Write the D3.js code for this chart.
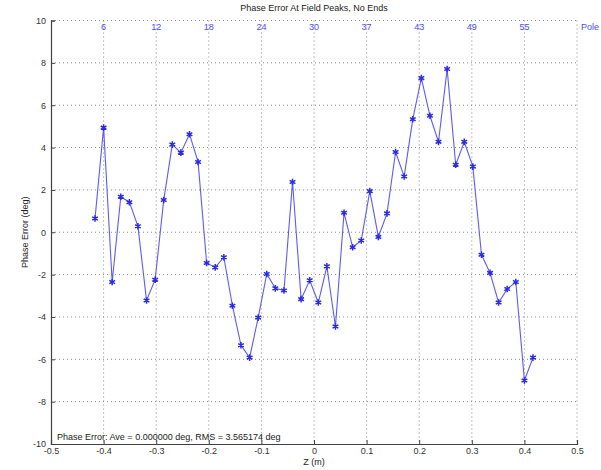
<!DOCTYPE html>
<html>
<head>
<meta charset="utf-8">
<script src="https://cdn.jsdelivr.net/npm/d3@7"></script>
<style>
  html, body { margin: 0; padding: 0; background: #fff; }
  svg { display: block; font-family: "Liberation Sans", Arial, sans-serif; }
</style>
</head>
<body>
<svg id="chart" width="601" height="470"></svg>
<script>
// Longitudinal position of each field peak (m)
const zPositions = [
  -0.4163, -0.4000, -0.3837, -0.3673, -0.3510, -0.3347, -0.3184, -0.3020,
  -0.2857, -0.2694, -0.2531, -0.2367, -0.2204, -0.2041, -0.1878, -0.1714,
  -0.1551, -0.1388, -0.1224, -0.1061, -0.0898, -0.0735, -0.0571, -0.0408,
  -0.0245, -0.0082, 0.0082, 0.0245, 0.0408, 0.0571, 0.0735, 0.0898,
  0.1061, 0.1224, 0.1388, 0.1551, 0.1714, 0.1878, 0.2041, 0.2204,
  0.2367, 0.2531, 0.2694, 0.2857, 0.3020, 0.3184, 0.3347, 0.3510,
  0.3673, 0.3837, 0.4000, 0.4163
];

// Phase error at each peak (deg)
const phaseError = [
  0.65, 4.94, -2.35, 1.68, 1.42, 0.28, -3.22, -2.24,
  1.52, 4.14, 3.76, 4.63, 3.32, -1.45, -1.66, -1.18,
  -3.47, -5.34, -5.92, -4.03, -1.97, -2.65, -2.75, 2.37,
  -3.16, -2.27, -3.32, -1.61, -4.45, 0.92, -0.71, -0.39,
  1.94, -0.22, 0.89, 3.79, 2.63, 5.34, 7.28, 5.50,
  4.27, 7.71, 3.19, 4.27, 3.10, -1.06, -1.92, -3.32,
  -2.68, -2.35, -7.00, -5.92
];

// Axis ticks
const xTicks = [-0.5, -0.4, -0.3, -0.2, -0.1, 0, 0.1, 0.2, 0.3, 0.4, 0.5];
const yTicks = [-10, -8, -6, -4, -2, 0, 2, 4, 6, 8, 10];

// Pole numbers written along the top of the plot
const poleTickZ = [-0.4, -0.3, -0.2, -0.1, 0, 0.1, 0.2, 0.3, 0.4];
const poleTickLabels = ["6", "12", "18", "24", "30", "37", "43", "49", "55"];

const titleText = "Phase Error At Field Peaks, No Ends";
const xLabelText = "Z (m)";
const yLabelText = "Phase Error (deg)";
const statsText = "Phase Error: Ave = 0.000000 deg, RMS = 3.565174 deg";

const svg = d3.select("#chart");
const plotLeft = 51, plotRight = 577, plotTop = 20.5, plotBottom = 444;

const x = d3.scaleLinear().domain([-0.5, 0.5]).range([plotLeft, plotRight]);
const y = d3.scaleLinear().domain([-10, 10]).range([plotBottom, plotTop]);

const axisColor = "#404040";
const gridColor = "#8a8a8a";

// Dotted grid
const grid = svg.append("g");
grid.selectAll("line.vx").data(xTicks.slice(1)).join("line")
  .attr("x1", d => x(d)).attr("x2", d => x(d))
  .attr("y1", plotTop).attr("y2", plotBottom)
  .attr("stroke", gridColor).attr("stroke-width", 1)
  .attr("stroke-dasharray", "1,3");
grid.selectAll("line.hy").data(yTicks.slice(1)).join("line")
  .attr("x1", plotLeft).attr("x2", plotRight)
  .attr("y1", d => y(d)).attr("y2", d => y(d))
  .attr("stroke", gridColor).attr("stroke-width", 1)
  .attr("stroke-dasharray", "1,3");

// Axes with inward ticks
const xAxis = d3.axisBottom(x).tickValues(xTicks).tickSize(-4).tickPadding(4)
  .tickFormat(d => d === 0 ? "0" : d3.format(".1f")(d).replace("\u2212", "-"));
const gx = svg.append("g").attr("transform", `translate(0,${plotBottom})`).call(xAxis);
const yAxis = d3.axisLeft(y).tickValues(yTicks).tickSize(-4).tickPadding(5)
  .tickFormat(d => String(d));
const gy = svg.append("g").attr("transform", `translate(${plotLeft},0)`).call(yAxis);

[gx, gy].forEach(g => {
  g.select(".domain").attr("stroke", axisColor).attr("stroke-width", 1.2);
  g.selectAll(".tick line").attr("stroke", axisColor);
  g.selectAll(".tick text").attr("fill", "#333").attr("font-size", 9)
    .attr("font-family", "Liberation Sans, Arial, sans-serif");
});

// Phase error trace
const pts = zPositions.map((z, i) => [z, phaseError[i]]);
svg.append("path")
  .datum(pts)
  .attr("fill", "none")
  .attr("stroke", "#5a5aff")
  .attr("stroke-width", 1.1)
  .attr("d", d3.line().x(d => x(d[0])).y(d => y(d[1])));

svg.append("g").selectAll("path").data(pts).join("path")
  .attr("transform", d => `translate(${x(d[0])},${y(d[1])})`)
  .attr("d", d3.symbol(d3.symbolAsterisk, 30))
  .attr("fill", "none")
  .attr("stroke", "#2a2ae8")
  .attr("stroke-width", 1.5);

// Pole numbers along the top
svg.append("g").selectAll("text").data(poleTickZ).join("text")
  .attr("x", d => x(d)).attr("y", 30)
  .attr("text-anchor", "middle")
  .attr("fill", "#4a4aff").attr("font-size", 9)
  .text((d, i) => poleTickLabels[i]);
svg.append("text")
  .attr("x", x(0.5) + 4).attr("y", 30)
  .attr("fill", "#4a4aff").attr("font-size", 9)
  .text("Pole");

// Titles and labels
svg.append("text")
  .attr("x", x(0)).attr("y", 11)
  .attr("text-anchor", "middle").attr("fill", "#222").attr("font-size", 9)
  .text(titleText);
svg.append("text")
  .attr("x", x(0)).attr("y", 465)
  .attr("text-anchor", "middle").attr("fill", "#222").attr("font-size", 9)
  .text(xLabelText);
svg.append("text")
  .attr("transform", `translate(28,${y(0)}) rotate(-90)`)
  .attr("text-anchor", "middle").attr("fill", "#222").attr("font-size", 9)
  .text(yLabelText);
svg.append("text")
  .attr("x", plotLeft + 6).attr("y", 440)
  .attr("fill", "#222").attr("font-size", 9)
  .text(statsText);
</script>
</body>
</html>
